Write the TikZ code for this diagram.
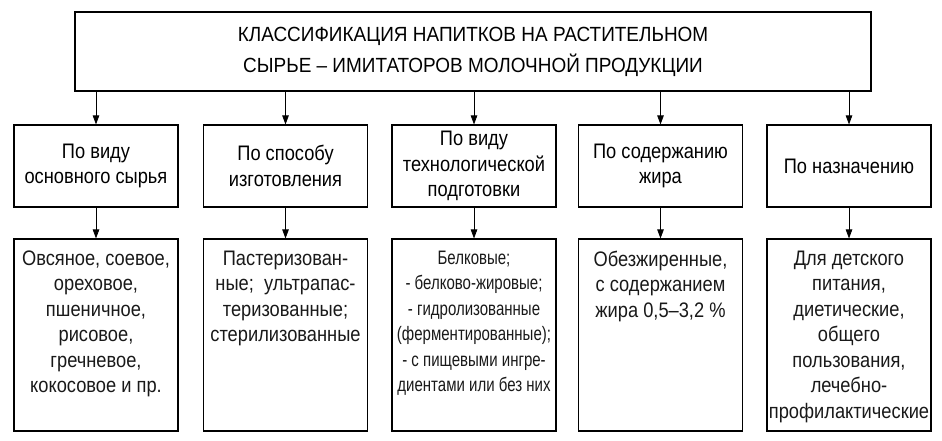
\documentclass[tikz,border=0pt]{standalone}
\usepackage{fontspec}
\setmainfont{Liberation Sans}[FakeStretch=0.87]
\newfontfamily\titlefont{Liberation Sans}[FakeStretch=0.925]
\newfontfamily\narrowfont{Liberation Sans}[FakeStretch=0.77]
\usetikzlibrary{arrows.meta}
\begin{document}
\begin{tikzpicture}[x=1pt,y=-1pt,
  box/.style={draw=black,line width=1.1pt,rectangle,inner sep=0pt},
  catbox/.style={box,minimum width=164pt,minimum height=82pt,align=center,
    font=\fontsize{21}{25.5}\selectfont},
  resbox/.style={box,minimum width=164pt,minimum height=192pt},
  txt/.style={align=center,inner sep=0pt,font=\fontsize{21}{25.5}\selectfont,text=black!90},
  arr/.style={draw=black,line width=0.8pt,-{Triangle[length=9pt,width=6.5pt]}}
]
\useasboundingbox (0,0) rectangle (942,441);
\node[box,minimum width=796pt,minimum height=79pt,align=center,
  font=\titlefont\fontsize{20.5}{31}\selectfont] (top) at (473,51.5)
  {КЛАССИФИКАЦИЯ НАПИТКОВ НА РАСТИТЕЛЬНОМ\\СЫРЬЕ – ИМИТАТОРОВ МОЛОЧНОЙ ПРОДУКЦИИ};

\node[catbox] (c1) at (96,166) {По виду\\основного сырья};
\node[catbox] (c2) at (285.5,166) {По способу\\изготовления};
\node[catbox] (c3) at (474,166) {По виду\\технологической\\подготовки};
\node[catbox] (c4) at (660.5,166) {По содержанию\\жира};
\node[catbox] (c5) at (849,166) {По назначению};

\foreach \i/\x in {1/96,2/285.5,3/474,4/660.5,5/849}{
  \node[resbox] (r\i) at (\x,335) {};
}

\node[txt,anchor=north] (t1) at ([yshift=-12pt]r1.north) {Овсяное, соевое,\\ореховое,\\пшеничное,\\рисовое,\\гречневое,\\кокосовое и пр.};
\node[txt,anchor=north] (t2) at ([yshift=-12pt]r2.north) {Пастеризован-\\ные;\ \ ультрапас-\\теризованные;\\стерилизованные};
\node[txt,anchor=north,font=\narrowfont\fontsize{19.5}{25.5}\selectfont] (t3) at ([yshift=-12pt]r3.north) {Белковые;\\- белково-жировые;\\- гидролизованные\\(ферментированные);\\- с пищевыми ингре-\\диентами или без них};
\node[txt,anchor=north] (t4) at ([yshift=-12pt]r4.north) {Обезжиренные,\\с содержанием\\жира 0,5–3,2 \%};
\node[txt,anchor=north] (t5) at ([yshift=-12pt]r5.north) {Для детского\\питания,\\диетические,\\общего\\пользования,\\лечебно-\\профилактические};

\foreach \i in {1,...,5}{
  \draw[arr] (top.south -| c\i.north) -- (c\i.north);
  \draw[arr] (c\i.south) -- (r\i.north);
}
\end{tikzpicture}
\end{document}
